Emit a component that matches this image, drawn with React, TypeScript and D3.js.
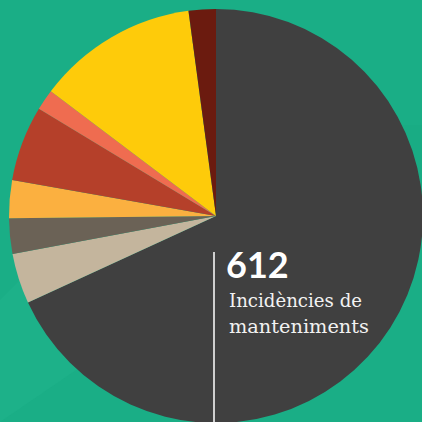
import { useEffect, useRef } from 'react';
import * as d3 from 'd3';

// Incidències per tipus (total 612), llegits del gràfic en ordre horari des de dalt
const categories = ['Manteniment', 'Tipus B', 'Tipus C', 'Tipus D', 'Tipus E', 'Tipus F', 'Tipus G', 'Tipus H'];
const values = [417, 24, 17, 18, 36, 10, 77, 13];
const colors = ['#404040', '#c4b59d', '#6b6256', '#fbb040', '#b5402a', '#ef6c50', '#fecb0a', '#6b1b0f'];

const totalLabel = '612';
const labelLines = ['Incidències de', 'manteniments'];
const labelWidths = [133, 140];

function App() {
  const svgRef = useRef<SVGSVGElement>(null);

  useEffect(() => {
    const width = 422;
    const height = 422;
    const cx = 216;
    const cy = 216;
    const radius = 207;

    const svg = d3.select(svgRef.current);
    svg.selectAll('*').remove();
    svg.attr('width', width).attr('height', height);

    // Fons
    svg.append('rect')
      .attr('width', width)
      .attr('height', height)
      .attr('fill', '#1aae86');

    // Muntanyes suaus del fons
    svg.append('path')
      .attr('d', 'M0,300 L38,262 L120,340 L0,422 Z')
      .attr('fill', '#1fb38b')
      .attr('opacity', 0.5);
    svg.append('rect')
      .attr('x', 380).attr('y', 125)
      .attr('width', 42).attr('height', 100)
      .attr('fill', '#17a982')
      .attr('opacity', 0.5);

    const pie = d3.pie<number>().sort(null).value(d => d);
    const arc = d3.arc<d3.PieArcDatum<number>>().innerRadius(0).outerRadius(radius);

    const g = svg.append('g').attr('transform', `translate(${cx},${cy})`);

    g.selectAll('path.slice')
      .data(pie(values))
      .join('path')
      .attr('class', 'slice')
      .attr('d', arc)
      .attr('fill', (d, i) => colors[i])
      .append('title')
      .text((d, i) => `${categories[i]}: ${d.value}`);

    // Línia vertical
    svg.append('line')
      .attr('x1', 214).attr('x2', 214)
      .attr('y1', 252).attr('y2', height)
      .attr('stroke', '#ffffff')
      .attr('stroke-width', 1.5);

    svg.append('text')
      .attr('x', 226)
      .attr('y', 278)
      .attr('fill', '#ffffff')
      .style('font-family', 'Lato, sans-serif')
      .style('font-weight', '700')
      .style('font-size', '36px')
      .text(totalLabel);

    labelLines.forEach((line, i) => {
      svg.append('text')
        .attr('x', 229)
        .attr('y', 307 + i * 25.5)
        .attr('fill', '#f2f2f2')
        .attr('textLength', labelWidths[i])
        .attr('lengthAdjust', 'spacingAndGlyphs')
        .style('font-family', '"DejaVu Serif", serif')
        .style('font-size', '18px')
        .text(line);
    });
  }, []);

  return (
    <div style={{ position: 'fixed', left: 0, top: 0, width: 422, height: 422 }}>
      <svg ref={svgRef} style={{ display: 'block' }}></svg>
    </div>
  );
}

export default App;
